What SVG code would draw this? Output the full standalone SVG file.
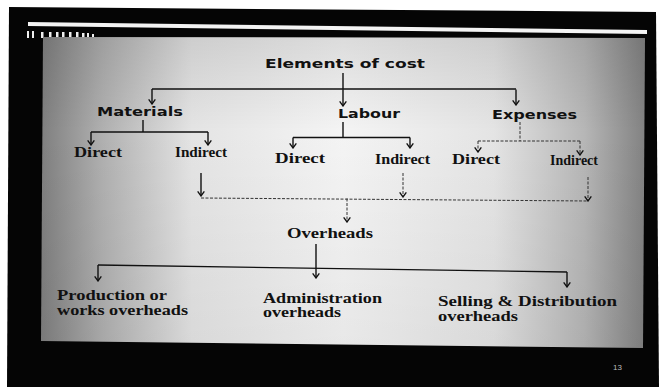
<svg xmlns="http://www.w3.org/2000/svg" width="659" height="387" viewBox="0 0 659 387">
<defs>
<linearGradient id="panel" x1="0" y1="0" x2="1" y2="0">
<stop offset="0" stop-color="#7f7f7f"/>
<stop offset="0.1" stop-color="#afafaf"/>
<stop offset="0.25" stop-color="#e4e4e4"/>
<stop offset="0.5" stop-color="#f4f4f4"/>
<stop offset="0.75" stop-color="#e4e4e4"/>
<stop offset="0.9" stop-color="#b6b6b6"/>
<stop offset="1" stop-color="#828282"/>
</linearGradient>
<linearGradient id="shade" x1="0" y1="0" x2="0" y2="1">
<stop offset="0" stop-color="#000" stop-opacity="0.1"/>
<stop offset="0.3" stop-color="#000" stop-opacity="0"/>
<stop offset="1" stop-color="#000" stop-opacity="0.05"/>
</linearGradient>
<marker id="arr" markerUnits="userSpaceOnUse" markerWidth="8" markerHeight="8" refX="5" refY="3" orient="auto" viewBox="0 0 6 6">
<path d="M1.5,0.5 L5,3 L1.5,5.5" fill="none" stroke="#111" stroke-width="1"/>
</marker>
<style>
.sans{font-family:"DejaVu Sans","Liberation Sans",sans-serif;font-weight:bold;font-size:13px;fill:#111}
.serif{font-family:"Liberation Serif","DejaVu Serif",serif;font-weight:bold;font-size:14px;fill:#111}
.ln{fill:none;stroke:#111;stroke-width:1.4}
.lt{fill:none;stroke:#333;stroke-width:1;stroke-dasharray:3 1.5}
</style>
</defs>

<!-- frame -->
<rect x="0" y="0" width="659" height="387" fill="#ffffff"/>
<polygon points="9,7 656,12 659,387 7,387" fill="#050505"/>
<polygon points="28,22 647,30 647,34 28,26" fill="#f4f4f4"/>
<g fill="#eeeeee">
<rect x="27" y="31" width="2" height="7"/>
<rect x="32" y="31" width="2" height="7"/>
<rect x="41" y="32" width="2.5" height="6"/>
<rect x="49" y="32" width="2.5" height="6"/>
<rect x="56" y="32" width="2.5" height="6"/>
<rect x="62" y="32" width="2.5" height="6"/>
<rect x="69" y="32" width="2.5" height="6"/>
<rect x="76" y="32" width="2.5" height="6"/>
<rect x="82" y="33" width="2.5" height="5"/>
<rect x="87" y="33" width="2" height="4"/>
<rect x="92" y="34" width="2" height="3"/>
</g>
<polygon points="43,37 645,38 643,348 41,341" fill="url(#panel)"/>
<polygon points="43,37 645,38 643,348 41,341" fill="url(#shade)"/>
<text x="613" y="370" font-family="Liberation Sans, sans-serif" font-size="8" fill="#bbbbbb">13</text>

<!-- connectors -->
<g id="connectors">
<path class="ln" d="M343,73 V89.5"/>
<path class="ln" d="M152,89 H516"/>
<path class="ln" d="M152,89 V104" marker-end="url(#arr)"/>
<path class="ln" d="M343,89.5 V106" marker-end="url(#arr)"/>
<path class="ln" d="M516,89.5 V105" marker-end="url(#arr)"/>

<path class="ln" d="M143,120 V132 M91,132 H208"/>
<path class="ln" d="M91,132 V145" marker-end="url(#arr)"/>
<path class="ln" d="M208,132 V145" marker-end="url(#arr)"/>

<path class="ln" d="M343,122 V137.5 M293,137.5 H410"/>
<path class="ln" d="M293,137.5 V148" marker-end="url(#arr)"/>
<path class="ln" d="M410,137.5 V148" marker-end="url(#arr)"/>

<path class="lt" d="M520,122 V141 M478,141 H580"/>
<path class="lt" d="M478,141 V152" marker-end="url(#arr)"/>
<path class="lt" d="M580,141 V155" marker-end="url(#arr)"/>

<path class="ln" d="M201,173 V196" marker-end="url(#arr)"/>
<path class="lt" d="M403,173 V197" marker-end="url(#arr)"/>
<path class="lt" d="M588,177 V201" marker-end="url(#arr)"/>
<path class="lt" d="M201,198 L588,201"/>
<path class="lt" d="M347,198.5 V222" marker-end="url(#arr)"/>

<path class="ln" d="M316,244 V278" marker-end="url(#arr)"/>
<path class="ln" d="M98,265 L567,272"/>
<path class="ln" d="M98,265 V281" marker-end="url(#arr)"/>
<path class="ln" d="M567,272 V287" marker-end="url(#arr)"/>
</g>

<!-- nodes -->
<g id="elements-of-cost"><text class="sans" x="265" y="68" textLength="160" lengthAdjust="spacingAndGlyphs">Elements of cost</text></g>
<g id="materials"><text class="sans" x="97" y="116" textLength="86" lengthAdjust="spacingAndGlyphs">Materials</text></g>
<g id="labour"><text class="sans" x="338" y="118" textLength="62" lengthAdjust="spacingAndGlyphs">Labour</text></g>
<g id="expenses"><text class="sans" x="492" y="119" textLength="85" lengthAdjust="spacingAndGlyphs">Expenses</text></g>

<g id="materials-direct"><text class="serif" x="74" y="157" textLength="48" lengthAdjust="spacingAndGlyphs">Direct</text></g>
<g id="materials-indirect"><text class="serif" x="175" y="157" textLength="52" lengthAdjust="spacingAndGlyphs">Indirect</text></g>
<g id="labour-direct"><text class="serif" x="275" y="163" textLength="50" lengthAdjust="spacingAndGlyphs">Direct</text></g>
<g id="labour-indirect"><text class="serif" x="375" y="164" textLength="55" lengthAdjust="spacingAndGlyphs">Indirect</text></g>
<g id="expenses-direct"><text class="serif" x="452" y="164" textLength="48" lengthAdjust="spacingAndGlyphs">Direct</text></g>
<g id="expenses-indirect"><text class="serif" x="550" y="165" textLength="48" lengthAdjust="spacingAndGlyphs">Indirect</text></g>

<g id="overheads"><text class="serif" x="287" y="238" textLength="86" lengthAdjust="spacingAndGlyphs">Overheads</text></g>

<g id="production-overheads">
<text class="serif" x="57" y="300" textLength="110" lengthAdjust="spacingAndGlyphs">Production or</text>
<text class="serif" x="57" y="315" textLength="131" lengthAdjust="spacingAndGlyphs">works overheads</text>
</g>
<g id="administration-overheads">
<text class="serif" x="263" y="303" textLength="119" lengthAdjust="spacingAndGlyphs">Administration</text>
<text class="serif" x="263" y="317" textLength="78" lengthAdjust="spacingAndGlyphs">overheads</text>
</g>
<g id="selling-distribution-overheads">
<text class="serif" x="438" y="306" textLength="179" lengthAdjust="spacingAndGlyphs">Selling &amp; Distribution</text>
<text class="serif" x="438" y="321" textLength="80" lengthAdjust="spacingAndGlyphs">overheads</text>
</g>
</svg>
